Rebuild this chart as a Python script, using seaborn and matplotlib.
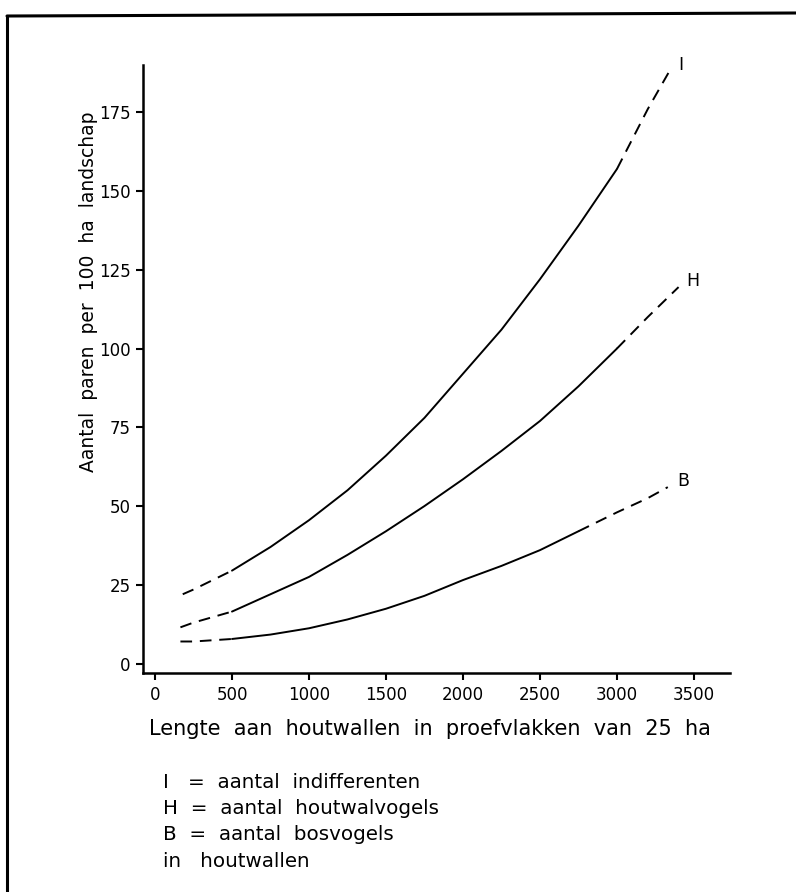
import matplotlib
matplotlib.use("Agg")
import matplotlib.pyplot as plt
import seaborn as sns
import pandas as pd
from matplotlib.lines import Line2D

# ---- data ----
x_I = [180, 250, 500, 750, 1000, 1250, 1500, 1750, 2000, 2250, 2500, 2750, 3000, 3200, 3340]
y_I = [22, 23.5, 29.5, 37, 45.5, 55, 66, 78, 92, 106, 122, 139, 157, 176, 188]

x_H = [165, 250, 500, 750, 1000, 1250, 1500, 1750, 2000, 2250, 2500, 2750, 3000, 3200, 3400]
y_H = [11.5, 13, 16.5, 22, 27.5, 34.5, 42, 50, 58.5, 67.5, 77, 88, 100, 110, 119.5]

x_B = [165, 250, 500, 750, 1000, 1250, 1500, 1750, 2000, 2250, 2500, 2750, 3000, 3200, 3330]
y_B = [7, 7, 7.8, 9.2, 11.2, 14, 17.4, 21.5, 26.5, 31, 36, 42, 48, 52.5, 56]

series_names = ["I", "H", "B"]
solid_from = [500, 500, 500]
solid_to = [3000, 3000, 2900]

x_ticks = [0, 500, 1000, 1500, 2000, 2500, 3000, 3500]
y_ticks = [0, 25, 50, 75, 100, 125, 150, 175]

x_label = "Lengte  aan  houtwallen  in  proefvlakken  van  25  ha"
y_label = "Aantal  paren  per  100  ha  landschap"
legend_lines = ["I   =  aantal  indifferenten",
                "H  =  aantal  houtwalvogels",
                "B  =  aantal  bosvogels",
                "in   houtwallen"]

# ---- figure ----
sns.set_style("ticks")
plt.rcParams["font.family"] = ["DejaVu Sans"]

fig = plt.figure(figsize=(7.96, 8.92), dpi=100)
ax = fig.add_axes([143 / 796, 1 - 673 / 892, (730 - 143) / 796, (673 - 65) / 892])

xs_all = [x_I, x_H, x_B]
ys_all = [y_I, y_H, y_B]
label_offsets = [(60, 2), (50, 2), (60, 2)]
for name, xs, ys, s0, s1, off in zip(series_names, xs_all, ys_all,
                                     solid_from, solid_to, label_offsets):
    df = pd.DataFrame({"x": xs, "y": ys})
    head = df[df.x <= s0]
    mid = df[(df.x >= s0) & (df.x <= s1)]
    tail = df[df.x >= s1]
    if len(tail) and tail.x.min() > s1:
        tail = pd.concat([mid.tail(1), tail])
    sns.lineplot(data=head, x="x", y="y", ax=ax, color="black", lw=1.4,
                 linestyle=(0, (6, 4)), sort=True, estimator=None)
    sns.lineplot(data=mid, x="x", y="y", ax=ax, color="black", lw=1.4,
                 sort=True, estimator=None)
    sns.lineplot(data=tail, x="x", y="y", ax=ax, color="black", lw=1.4,
                 linestyle=(0, (6, 4)), sort=True, estimator=None)
    ax.text(xs[-1] + off[0], ys[-1] + off[1], name, fontsize=12.5,
            ha="left", va="center", color="black")

ax.set_xlim(-78, 3734)
ax.set_ylim(-3, 190)
ax.set_xticks(x_ticks)
ax.set_yticks(y_ticks)
ax.tick_params(axis="both", direction="out", length=5, width=1.5,
               labelsize=12, colors="black", pad=4)
for side in ["top", "right"]:
    ax.spines[side].set_visible(False)
for side in ["left", "bottom"]:
    ax.spines[side].set_linewidth(1.8)
    ax.spines[side].set_color("black")

ax.set_xlabel(x_label, fontsize=15, color="black")
ax.xaxis.set_label_coords((430 - 143) / 587, -(719 - 673) / 608)
ax.set_ylabel(y_label, fontsize=13.5, color="black")
ax.yaxis.set_label_coords(-(143 - 98) / 587, (673 - 292) / 608)

# legend text block
y0 = 1 - 782 / 892
for i, line in enumerate(legend_lines):
    fig.text(163 / 796, y0 - i * 26.5 / 892, line, fontsize=14.3,
             ha="left", va="center", color="black")

# border of the scanned page
fig.add_artist(Line2D([7 / 796, 7 / 796], [0, 1 - 16 / 892],
                      transform=fig.transFigure, color="black", lw=2.2))
fig.add_artist(Line2D([7 / 796, 1], [1 - 16 / 892, 1 - 13 / 892],
                      transform=fig.transFigure, color="black", lw=2.2))

fig.savefig("out.png", dpi=100, facecolor="white")
